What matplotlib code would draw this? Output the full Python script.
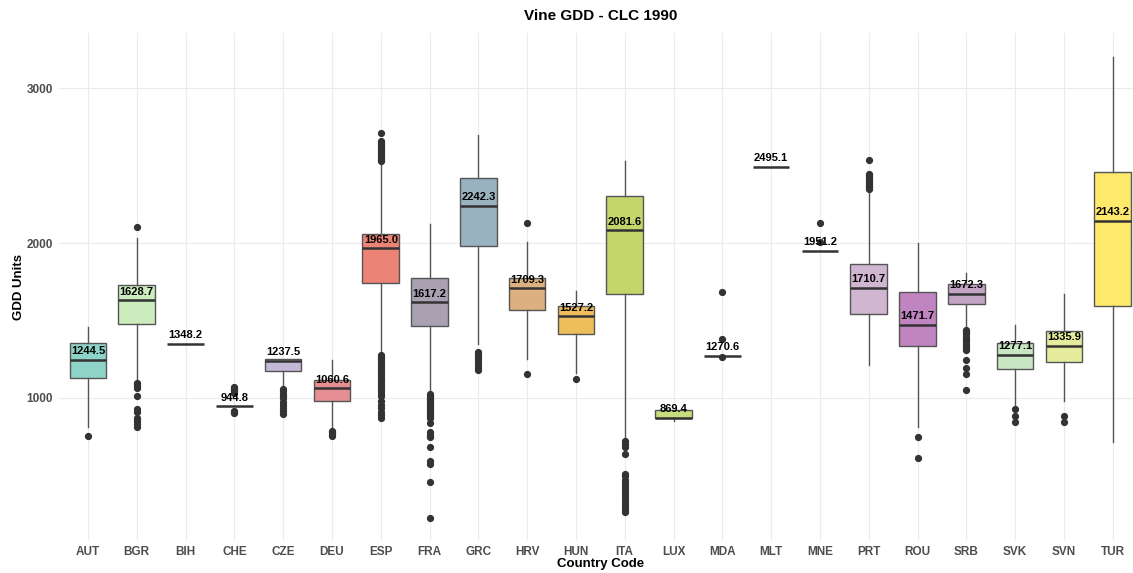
import matplotlib
matplotlib.use("Agg")
import matplotlib.pyplot as plt
import numpy as np

plt.rcParams["font.family"] = ["Liberation Sans", "DejaVu Sans"]

countries = ["AUT", "BGR", "BIH", "CHE", "CZE", "DEU", "ESP", "FRA", "GRC", "HRV", "HUN",
             "ITA", "LUX", "MDA", "MLT", "MNE", "PRT", "ROU", "SRB", "SVK", "SVN", "TUR"]
medians = [1244.5, 1628.7, 1348.2, 944.8, 1237.5, 1060.6, 1965.0, 1617.2, 2242.3, 1709.3, 1527.2,
           2081.6, 869.4, 1270.6, 2495.1, 1951.2, 1710.7, 1471.7, 1672.3, 1277.1, 1335.9, 2143.2]
q1 = [1129, 1478, 1348.2, 944.8, 1172, 979, 1740, 1465, 1979, 1564, 1413,
      1669, 867, 1270.6, 2495.1, 1951.2, 1540, 1332, 1609, 1186, 1232, 1596]
q3 = [1354, 1729, 1348.2, 944.8, 1251, 1111, 2061, 1772, 2419, 1772, 1596,
      2304, 923, 1270.6, 2495.1, 1951.2, 1862, 1686, 1733, 1354, 1429, 2462]
whis_lo = [807, 1118, 1348.2, 944.8, 1064, 796, 1290, 1030, 1347, 1251, 1161,
           730, 852, 1270.6, 2495.1, 1951.2, 1208, 807, 1450, 947, 979, 711]
whis_hi = [1457, 2035, 1348.2, 944.8, 1251, 1246, 2520, 2125, 2700, 2008, 1693,
           2533, 923, 1270.6, 2495.1, 1951.2, 2345, 2001, 1804, 1471, 1669, 3204]
outliers = [
    [749],
    [2104, 1096, 1086, 1075, 1064, 1011, 925, 904, 871, 850, 828, 813],
    [],
    [1070, 1062, 1055, 1048, 1040, 1032, 915, 908, 900],
    [1053, 1040, 1025, 1010, 995, 975, 955, 935, 915, 893],
    [786, 775, 765, 754],
    [2715, 2661, 2650, 2640, 2630, 2620, 2610, 2600, 2590, 2580, 2570, 2560, 2550, 2540, 2530,
     1278, 1265, 1250, 1235, 1220, 1205, 1190, 1175, 1160, 1145, 1130, 1115, 1100, 1085,
     1070, 1055, 1040, 1025, 1011, 979, 950, 930, 905, 890, 871],
    [1021, 1010, 1000, 990, 980, 970, 960, 950, 940, 930, 920, 910, 900, 890, 880, 871,
     833, 775, 760, 743, 678, 588, 569, 453, 224],
    [1296, 1280, 1265, 1250, 1230, 1210, 1190, 1176],
    [2130, 1150],
    [1118],
    [721, 700, 678, 635, 507, 490, 470, 450, 430, 410, 390, 370, 350, 330, 310, 290, 275, 260],
    [],
    [1684, 1381, 1264],
    [],
    [2132, 2005],
    [2539, 2447, 2440, 2430, 2420, 2410, 2400, 2390, 2380, 2370, 2360, 2350],
    [743, 608],
    [1439, 1425, 1410, 1395, 1380, 1365, 1350, 1335, 1320, 1311, 1242, 1193, 1154, 1047],
    [929, 878, 844],
    [882, 844],
    [],
]
colors = ["#8dd3c7", "#cbecbd", "#ffffff", "#ffffff", "#c4b8d8", "#e68f93", "#ec8377", "#a9a0b2",
          "#98b3bf", "#dcb07f", "#eebe5c", "#c4d66b", "#c8dc7c", "#ffffff", "#ffffff", "#ffffff",
          "#d0b6d0", "#c084c0", "#c4a4c4", "#c8e6c2", "#e4eb9a", "#ffe96b"]

title = "Vine GDD - CLC 1990"
xlabel = "Country Code"
ylabel = "GDD Units"
yticks = [1000, 2000, 3000]

fig = plt.figure(figsize=(11.33, 5.73), dpi=100)
ax = fig.add_axes([58.7 / 1133, 33 / 573, (1142 - 58.7) / 1133, 507 / 573])

stats = []
for i, c in enumerate(countries):
    stats.append(dict(label=c, med=medians[i], q1=q1[i], q3=q3[i],
                      whislo=whis_lo[i], whishi=whis_hi[i], fliers=outliers[i]))

pos = np.arange(len(countries))
bp = ax.bxp(stats, positions=pos, widths=0.75, patch_artist=True, showcaps=False,
            boxprops=dict(edgecolor="#555555", linewidth=1.0),
            whiskerprops=dict(color="#555555", linewidth=1.0),
            medianprops=dict(color="#333333", linewidth=1.8),
            flierprops=dict(marker="o", markersize=4.2, markerfacecolor="#333333",
                            markeredgecolor="#333333", linestyle="none"))
for patch, col, a, b in zip(bp["boxes"], colors, q1, q3):
    patch.set_facecolor(col)
    if a == b:
        patch.set_edgecolor("none")
    patch.set_zorder(2)

for i, m in enumerate(medians):
    ax.annotate(f"{m:.1f}", xy=(pos[i], m), xytext=(0, 2.5), textcoords="offset points",
                ha="center", va="bottom", fontsize=8, fontweight="bold", color="black", zorder=5)

ax.set_xlim(-0.6, len(countries) - 0.4)
ax.set_ylim(79, 3359)
ax.set_yticks(yticks)
ax.set_xticks(pos)
ax.set_xticklabels(countries)
ax.tick_params(axis="both", length=0, labelsize=8.5, labelcolor="#4d4d4d")
for lab in ax.get_xticklabels() + ax.get_yticklabels():
    lab.set_fontweight("bold")
ax.tick_params(axis="x", pad=4)
ax.tick_params(axis="y", pad=4)
ax.grid(True, color="#ebebeb", linewidth=0.8)
ax.set_axisbelow(True)
for s in ax.spines.values():
    s.set_visible(False)

ax.set_title(title, fontsize=11, fontweight="bold", pad=9)
ax.set_xlabel(xlabel, fontsize=9.5, fontweight="bold", labelpad=0)
ax.set_ylabel(ylabel, fontsize=9.5, fontweight="bold", labelpad=1)

fig.savefig("out.png", dpi=100)
